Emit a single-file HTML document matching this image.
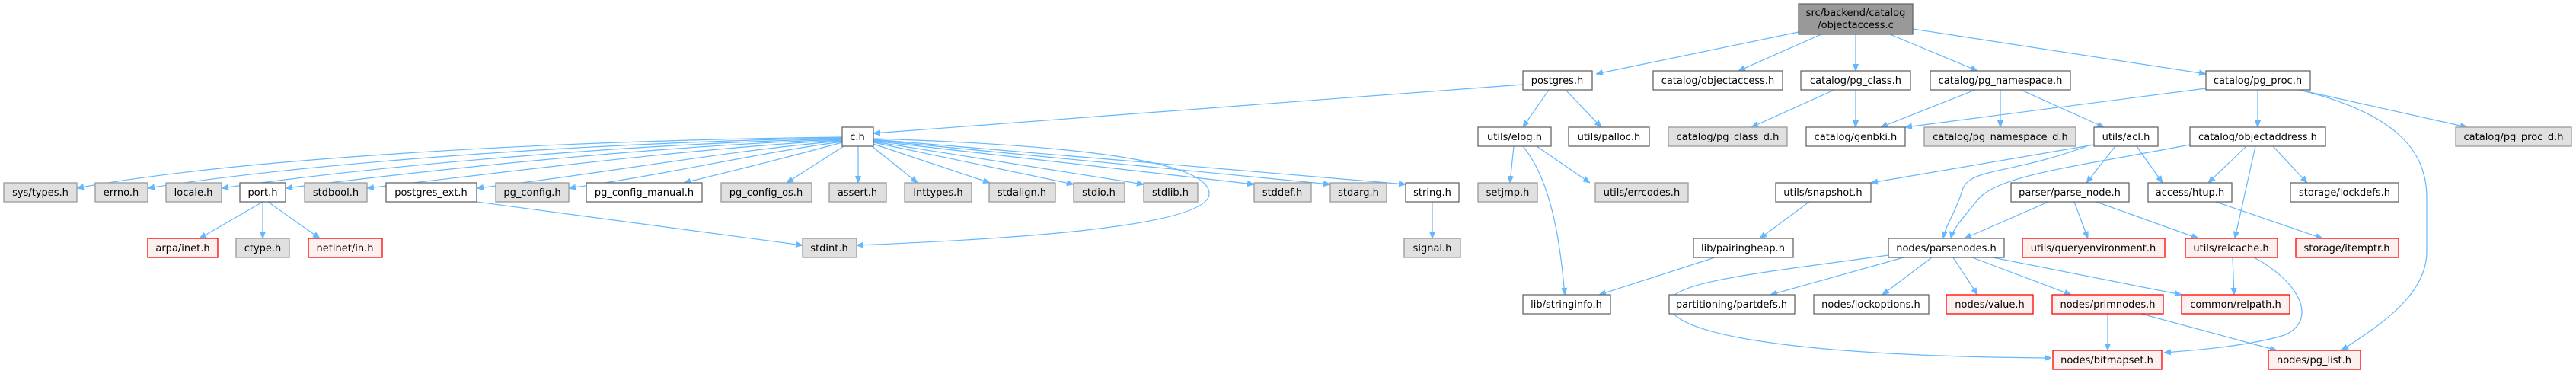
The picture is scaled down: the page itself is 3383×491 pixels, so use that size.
<!DOCTYPE html>
<html><head><meta charset="utf-8"><style>
html,body{margin:0;padding:0;background:#fff;}
svg{display:block;}
text{font-family:"DejaVu Sans","Liberation Sans",sans-serif;font-size:13px;text-anchor:middle;fill:#000;}
.g{fill:#e0e0e0;stroke:#999;stroke-width:1.3}
.w{fill:#fff;stroke:#666;stroke-width:1.3}
.r{fill:#fff0f0;stroke:#f00;stroke-width:1.3}
.e{fill:none;stroke:#63b8ff;stroke-width:1.2}
</style></head><body>
<svg width="3383" height="491" viewBox="0 0 3383 491" xmlns="http://www.w3.org/2000/svg">
<defs><marker id="a" viewBox="0 0 10 10" refX="10" refY="5" markerWidth="9" markerHeight="9" markerUnits="userSpaceOnUse" orient="auto"><path d="M0,1 L10,5 L0,9 z" fill="#63b8ff" stroke="#63b8ff"/></marker></defs>
<g class="edges">
<path class="e" marker-end="url(#a)" d="M2362,42 L2096,97"/>
<path class="e" marker-end="url(#a)" d="M2392,45 L2283,93"/>
<path class="e" marker-end="url(#a)" d="M2437,45 L2437,93"/>
<path class="e" marker-end="url(#a)" d="M2482,45 L2597,93"/>
<path class="e" marker-end="url(#a)" d="M2512,38 L2897,97"/>
<path class="e" marker-end="url(#a)" d="M2000,111 L1147,175"/>
<path class="e" marker-end="url(#a)" d="M2034,118 L2000,167"/>
<path class="e" marker-end="url(#a)" d="M2056,118 L2103,167"/>
<path class="e" marker-end="url(#a)" d="M2409,118 L2300,167"/>
<path class="e" marker-end="url(#a)" d="M2437,118 L2437,167"/>
<path class="e" marker-end="url(#a)" d="M2594,118 L2470,167"/>
<path class="e" marker-end="url(#a)" d="M2627,118 L2627,167"/>
<path class="e" marker-end="url(#a)" d="M2654,118 L2763,167"/>
<path class="e" marker-end="url(#a)" d="M2897,116 L2502,167"/>
<path class="e" marker-end="url(#a)" d="M2965,118 L2965,167"/>
<path class="e" marker-end="url(#a)" d="M3020,118 L3240,167"/>
<path class="e" marker-end="url(#a)" d="M3020,118 C3150,150 3187,200 3187,260 L3187,330 C3187,390 3120,430 3075,460"/>
<path class="e" marker-end="url(#a)" d="M1106,180 C700,185 300,210 101,247"/>
<path class="e" marker-end="url(#a)" d="M1106,181 C750,188 400,215 194,247"/>
<path class="e" marker-end="url(#a)" d="M1106,182 C800,190 480,220 291,247"/>
<path class="e" marker-end="url(#a)" d="M1106,183 C850,192 550,225 375,247"/>
<path class="e" marker-end="url(#a)" d="M1106,184 C900,195 650,228 482,247"/>
<path class="e" marker-end="url(#a)" d="M1106,185 C950,198 780,230 626,247"/>
<path class="e" marker-end="url(#a)" d="M1106,186 C1000,200 860,232 747,247"/>
<path class="e" marker-end="url(#a)" d="M1106,187 C1040,205 960,225 898,240"/>
<path class="e" marker-end="url(#a)" d="M1108,192 L1033,240"/>
<path class="e" marker-end="url(#a)" d="M1127,192 L1127,240"/>
<path class="e" marker-end="url(#a)" d="M1147,182 C1400,190 1590,210 1588,255 C1585,300 1300,315 1125,322"/>
<path class="e" marker-end="url(#a)" d="M1145,192 L1205,240"/>
<path class="e" marker-end="url(#a)" d="M1147,189 L1300,240"/>
<path class="e" marker-end="url(#a)" d="M1147,187 L1410,242"/>
<path class="e" marker-end="url(#a)" d="M1147,186 L1502,242"/>
<path class="e" marker-end="url(#a)" d="M1147,185 L1647,242"/>
<path class="e" marker-end="url(#a)" d="M1147,184 L1747,242"/>
<path class="e" marker-end="url(#a)" d="M1147,183 L1846,242"/>
<path class="e" marker-end="url(#a)" d="M1881,265 L1881,313"/>
<path class="e" marker-end="url(#a)" d="M345,265 L262,313"/>
<path class="e" marker-end="url(#a)" d="M345,265 L345,313"/>
<path class="e" marker-end="url(#a)" d="M352,265 L420,313"/>
<path class="e" marker-end="url(#a)" d="M626,265 L1054,322"/>
<path class="e" marker-end="url(#a)" d="M1988,192 L1983,240"/>
<path class="e" marker-end="url(#a)" d="M2018,192 L2088,240"/>
<path class="e" marker-end="url(#a)" d="M2000,192 C2040,240 2050,330 2055,387"/>
<path class="e" marker-end="url(#a)" d="M2252,338 L2100,387"/>
<path class="e" marker-end="url(#a)" d="M2376,265 L2311,313"/>
<path class="e" marker-end="url(#a)" d="M2750,190 L2457,240"/>
<path class="e" marker-end="url(#a)" d="M2746,190 C2640,230 2585,220 2577,250 C2568,280 2555,295 2552,313"/>
<path class="e" marker-end="url(#a)" d="M2876,190 C2720,220 2620,230 2595,265 C2575,290 2565,300 2562,313"/>
<path class="e" marker-end="url(#a)" d="M2778,192 L2740,240"/>
<path class="e" marker-end="url(#a)" d="M2806,192 L2840,240"/>
<path class="e" marker-end="url(#a)" d="M2950,192 L2900,240"/>
<path class="e" marker-end="url(#a)" d="M2962,192 L2935,313"/>
<path class="e" marker-end="url(#a)" d="M2985,192 L3030,240"/>
<path class="e" marker-end="url(#a)" d="M2690,265 L2580,313"/>
<path class="e" marker-end="url(#a)" d="M2724,265 L2742,313"/>
<path class="e" marker-end="url(#a)" d="M2753,265 L2887,313"/>
<path class="e" marker-end="url(#a)" d="M2910,265 L3050,313"/>
<path class="e" marker-end="url(#a)" d="M2932,338 L2934,387"/>
<path class="e" marker-end="url(#a)" d="M2960,338 C3020,370 3045,420 3000,440 C2950,455 2880,460 2842,463"/>
<path class="e" marker-end="url(#a)" d="M2500,338 L2325,387"/>
<path class="e" marker-end="url(#a)" d="M2537,338 L2472,387"/>
<path class="e" marker-end="url(#a)" d="M2565,338 L2597,387"/>
<path class="e" marker-end="url(#a)" d="M2590,338 L2720,387"/>
<path class="e" marker-end="url(#a)" d="M2617,338 L2865,387"/>
<path class="e" marker-end="url(#a)" d="M2480,335 C2300,360 2190,370 2192,400 C2195,445 2400,468 2694,470"/>
<path class="e" marker-end="url(#a)" d="M2768,412 L2768,460"/>
<path class="e" marker-end="url(#a)" d="M2812,412 L2990,460"/>
</g>
<g>
<rect x="2362" y="5" width="150" height="40" fill="#999" stroke="#666" stroke-width="1.3"/>
<text x="2437" y="21">src/backend/catalog</text><text x="2437" y="37">/objectaccess.c</text>

<rect class="w" x="2000" y="93" width="91" height="25"/><text x="2045" y="110">postgres.h</text>
<rect class="w" x="2171" y="93" width="170" height="25"/><text x="2256" y="110">catalog/objectaccess.h</text>
<rect class="w" x="2365" y="93" width="144" height="25"/><text x="2437" y="110">catalog/pg_class.h</text>
<rect class="w" x="2535" y="93" width="184" height="25"/><text x="2627" y="110">catalog/pg_namespace.h</text>
<rect class="w" x="2897" y="93" width="137" height="25"/><text x="2965" y="110">catalog/pg_proc.h</text>

<rect class="w" x="1106" y="167" width="41" height="25"/><text x="1126" y="184">c.h</text>
<rect class="w" x="1941" y="167" width="96" height="25"/><text x="1989" y="184">utils/elog.h</text>
<rect class="w" x="2060" y="167" width="106" height="25"/><text x="2113" y="184">utils/palloc.h</text>
<rect class="g" x="2191" y="167" width="156" height="25"/><text x="2269" y="184">catalog/pg_class_d.h</text>
<rect class="w" x="2372" y="167" width="130" height="25"/><text x="2437" y="184">catalog/genbki.h</text>
<rect class="g" x="2527" y="167" width="199" height="25"/><text x="2627" y="184">catalog/pg_namespace_d.h</text>
<rect class="w" x="2750" y="167" width="84" height="25"/><text x="2792" y="184">utils/acl.h</text>
<rect class="w" x="2876" y="167" width="178" height="25"/><text x="2965" y="184">catalog/objectaddress.h</text>
<rect class="g" x="3225" y="167" width="152" height="25"/><text x="3301" y="184">catalog/pg_proc_d.h</text>

<rect class="g" x="5" y="240" width="96" height="25"/><text x="53" y="257">sys/types.h</text>
<rect class="g" x="125" y="240" width="69" height="25"/><text x="159" y="257">errno.h</text>
<rect class="g" x="218" y="240" width="73" height="25"/><text x="254" y="257">locale.h</text>
<rect class="w" x="315" y="240" width="60" height="25"/><text x="345" y="257">port.h</text>
<rect class="g" x="400" y="240" width="82" height="25"/><text x="441" y="257">stdbool.h</text>
<rect class="w" x="507" y="240" width="119" height="25"/><text x="566" y="257">postgres_ext.h</text>
<rect class="g" x="651" y="240" width="96" height="25"/><text x="699" y="257">pg_config.h</text>
<rect class="w" x="770" y="240" width="152" height="25"/><text x="846" y="257">pg_config_manual.h</text>
<rect class="g" x="947" y="240" width="119" height="25"/><text x="1006" y="257">pg_config_os.h</text>
<rect class="g" x="1089" y="240" width="75" height="25"/><text x="1126" y="257">assert.h</text>
<rect class="g" x="1188" y="240" width="88" height="25"/><text x="1232" y="257">inttypes.h</text>
<rect class="g" x="1299" y="240" width="87" height="25"/><text x="1342" y="257">stdalign.h</text>
<rect class="g" x="1410" y="240" width="67" height="25"/><text x="1443" y="257">stdio.h</text>
<rect class="g" x="1502" y="240" width="71" height="25"/><text x="1537" y="257">stdlib.h</text>
<rect class="g" x="1647" y="240" width="75" height="25"/><text x="1684" y="257">stddef.h</text>
<rect class="g" x="1747" y="240" width="74" height="25"/><text x="1784" y="257">stdarg.h</text>
<rect class="w" x="1846" y="240" width="70" height="25"/><text x="1881" y="257">string.h</text>
<rect class="g" x="1941" y="240" width="78" height="25"/><text x="1980" y="257">setjmp.h</text>
<rect class="g" x="2095" y="240" width="122" height="25"/><text x="2156" y="257">utils/errcodes.h</text>
<rect class="w" x="2332" y="240" width="125" height="25"/><text x="2394" y="257">utils/snapshot.h</text>
<rect class="w" x="2641" y="240" width="155" height="25"/><text x="2718" y="257">parser/parse_node.h</text>
<rect class="w" x="2821" y="240" width="110" height="25"/><text x="2876" y="257">access/htup.h</text>
<rect class="w" x="3008" y="240" width="142" height="25"/><text x="3079" y="257">storage/lockdefs.h</text>

<rect class="r" x="194" y="313" width="92" height="25"/><text x="240" y="330">arpa/inet.h</text>
<rect class="g" x="310" y="313" width="70" height="25"/><text x="345" y="330">ctype.h</text>
<rect class="r" x="405" y="313" width="97" height="25"/><text x="453" y="330">netinet/in.h</text>
<rect class="g" x="1054" y="313" width="71" height="25"/><text x="1089" y="330">stdint.h</text>
<rect class="g" x="1844" y="313" width="74" height="25"/><text x="1881" y="330">signal.h</text>
<rect class="w" x="2224" y="313" width="131" height="25"/><text x="2289" y="330">lib/pairingheap.h</text>
<rect class="w" x="2480" y="313" width="152" height="25"/><text x="2556" y="330">nodes/parsenodes.h</text>
<rect class="r" x="2656" y="313" width="187" height="25"/><text x="2749" y="330">utils/queryenvironment.h</text>
<rect class="r" x="2870" y="313" width="121" height="25"/><text x="2930" y="330">utils/relcache.h</text>
<rect class="r" x="3015" y="313" width="135" height="25"/><text x="3082" y="330">storage/itemptr.h</text>

<rect class="w" x="2000" y="387" width="115" height="25"/><text x="2057" y="404">lib/stringinfo.h</text>
<rect class="w" x="2192" y="387" width="165" height="25"/><text x="2274" y="404">partitioning/partdefs.h</text>
<rect class="w" x="2382" y="387" width="151" height="25"/><text x="2457" y="404">nodes/lockoptions.h</text>
<rect class="r" x="2556" y="387" width="114" height="25"/><text x="2613" y="404">nodes/value.h</text>
<rect class="r" x="2695" y="387" width="146" height="25"/><text x="2768" y="404">nodes/primnodes.h</text>
<rect class="r" x="2865" y="387" width="142" height="25"/><text x="2936" y="404">common/relpath.h</text>

<rect class="r" x="2696" y="460" width="143" height="25"/><text x="2767" y="477">nodes/bitmapset.h</text>
<rect class="r" x="2979" y="460" width="121" height="25"/><text x="3039" y="477">nodes/pg_list.h</text>
</g>
</svg>
</body></html>
